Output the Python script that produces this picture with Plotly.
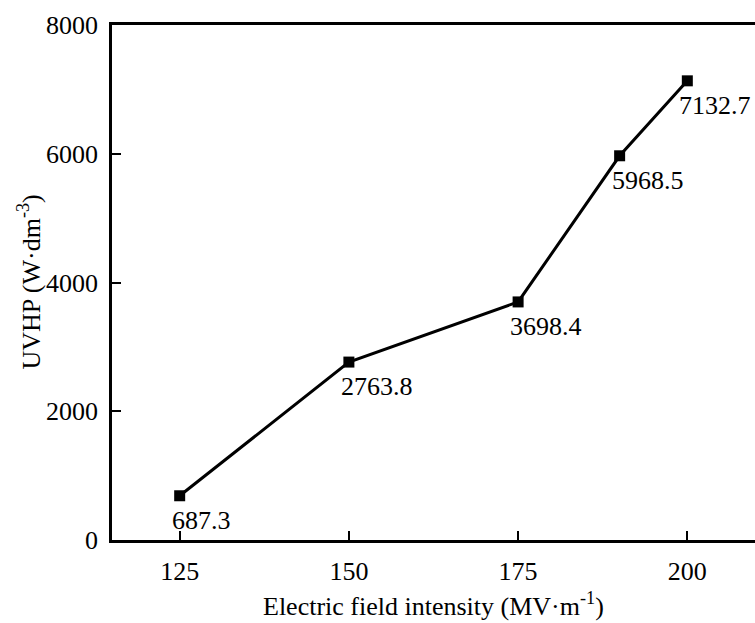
import plotly.graph_objects as go

# Electric field intensity (MV/m) and UVHP values
field = [125, 150, 175, 190, 200]
uvhp = [687.3, 2763.8, 3698.4, 5968.5, 7132.7]
x_ticks = [125, 150, 175, 200]
y_ticks = [0, 2000, 4000, 6000, 8000]

FONT = "Liberation Serif, Times New Roman, serif"
FS = 26

fig = go.Figure()
fig.add_trace(go.Scatter(
    x=field, y=uvhp, mode="lines+markers",
    line=dict(color="black", width=3),
    marker=dict(symbol="square", size=11, color="black"),
    showlegend=False, cliponaxis=False,
))

# value labels below-right of each point
for xv, yv in zip(field, uvhp):
    fig.add_annotation(
        x=xv, y=yv, text=f"{yv:.1f}", showarrow=False,
        xanchor="left", yanchor="top", xshift=-10, yshift=-8,
        font=dict(family=FONT, size=FS, color="black"),
    )

# axis titles
fig.add_annotation(
    xref="paper", yref="paper", x=0.5, y=0, yshift=-64,
    xanchor="center", yanchor="middle", showarrow=False,
    text="Electric field intensity (MV·m<sup>-1</sup>)",
    font=dict(family=FONT, size=FS, color="black"),
)
fig.add_annotation(
    xref="paper", yref="paper", x=0, y=0.5, xshift=-82,
    xanchor="center", yanchor="middle", showarrow=False, textangle=-90,
    text="UVHP (W·dm<sup>-3</sup>)",
    font=dict(family=FONT, size=FS, color="black"),
)

fig.update_layout(
    width=755, height=623,
    margin=dict(l=112, r=0, t=25, b=83),
    paper_bgcolor="white", plot_bgcolor="white",
    font=dict(family=FONT, size=FS, color="black"),
    xaxis=dict(
        range=[115, 210], tickvals=x_ticks, ticks="inside", ticklen=9,
        tickwidth=2, tickcolor="black", showline=True, linecolor="black",
        linewidth=2.5, mirror=True, showgrid=False, zeroline=False,
        ticklabelstandoff=6,
    ),
    yaxis=dict(
        range=[0, 8000], tickvals=y_ticks, ticks="inside", ticklen=9,
        tickwidth=2, tickcolor="black", showline=True, linecolor="black",
        linewidth=2.5, showgrid=False, zeroline=False,
        ticklabelstandoff=6,
    ),
)

fig.write_html("out.html")
